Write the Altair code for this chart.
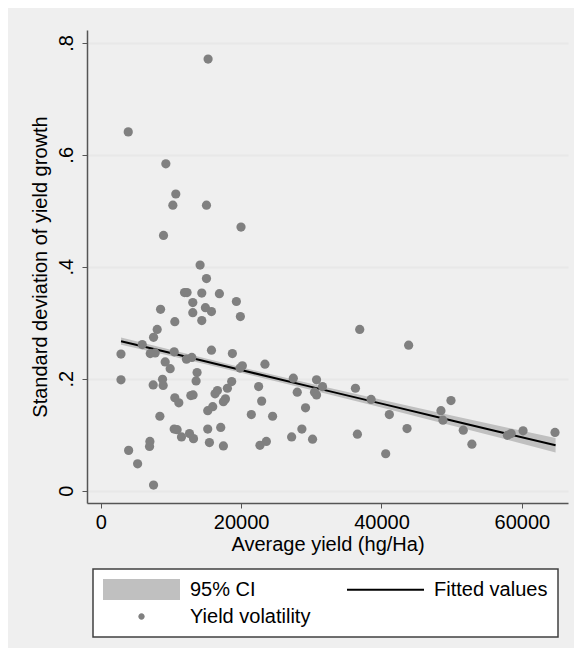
import altair as alt
import pandas as pd

# Scatter: average yield (hg/Ha) vs. standard deviation of yield growth
avg_yield = [
    15300, 3925, 9280, 10700, 10280, 15070, 19990, 8950, 14160, 15070,
    11940, 12300, 14400, 16910, 19330, 13120, 14920, 15780, 8530, 13120,
    19900, 10560, 14400, 8050, 7530, 5920, 2890, 7060, 7760, 10470,
    15780, 18760, 9190, 12220, 12980, 9900, 13730, 20180, 19850, 23400,
    2890, 8810, 13590, 7480, 8900, 18660, 18050, 22500, 27440, 30750,
    31600, 28000, 30460, 30750, 16630, 16290, 12840, 13160, 10560, 11130,
    17770, 17480, 22930, 29180, 15960, 15250, 8430, 21460, 24490, 10470,
    10890, 15250, 17100, 28660, 12650, 13220, 11510, 7010, 6960, 15490,
    17480, 22690, 23600, 27200, 30180, 3980, 5260, 7530,
    36900, 43870, 36290, 38520, 36570, 41120, 40600, 43640, 48470, 48760,
    49900, 51650, 52880, 57940, 58470, 60170, 64720,
]
yield_sd = [
    0.771, 0.641, 0.584, 0.530, 0.510, 0.510, 0.471, 0.456, 0.403, 0.379,
    0.354, 0.354, 0.353, 0.352, 0.338, 0.336, 0.327, 0.320, 0.324, 0.318,
    0.311, 0.302, 0.304, 0.288, 0.274, 0.261, 0.244, 0.245, 0.246, 0.248,
    0.251, 0.245, 0.230, 0.235, 0.238, 0.218, 0.211, 0.223, 0.219, 0.226,
    0.198, 0.199, 0.196, 0.189, 0.188, 0.195, 0.183, 0.186, 0.201, 0.198,
    0.186, 0.176, 0.176, 0.171, 0.179, 0.173, 0.170, 0.171, 0.166, 0.157,
    0.164, 0.159, 0.160, 0.148, 0.150, 0.143, 0.133, 0.136, 0.133, 0.110,
    0.109, 0.110, 0.113, 0.110, 0.102, 0.093, 0.096, 0.088, 0.079, 0.086,
    0.080, 0.081, 0.088, 0.096, 0.092, 0.072, 0.048, 0.010,
    0.288, 0.260, 0.183, 0.163, 0.101, 0.136, 0.066, 0.111, 0.143, 0.126,
    0.161, 0.108, 0.083, 0.099, 0.102, 0.107, 0.104,
]

# Fitted line and 95% CI
fit_x = [2900, 10000, 20000, 30000, 40000, 50000, 57000, 64800]
fit_y = [0.267, 0.246, 0.2155, 0.1855, 0.1555, 0.1255, 0.1045, 0.081]
ci_lo = [0.2605, 0.2404, 0.2105, 0.1799, 0.1485, 0.1166, 0.0940, 0.068]
ci_hi = [0.2735, 0.2516, 0.2205, 0.1911, 0.1625, 0.1344, 0.1150, 0.094]

legend_labels = ["95% CI", "Fitted values", "Yield volatility"]
legend_colors = ["#c0c0c0", "#000000", "#808080"]
# symbol paths in units of half the symbol size (size 441 -> 10.5 px)
legend_shapes = [
    "M-3.667,-1H3.667V1H-3.667Z",
    "M-3.667,-0.1H3.667V0.1H-3.667Z",
    "M-0.3,0A0.3,0.3 0 1,0 0.3,0A0.3,0.3 0 1,0 -0.3,0Z",
]

pts = pd.DataFrame({"x": avg_yield, "y": yield_sd})
fit = pd.DataFrame({"x": fit_x, "y": fit_y, "lo": ci_lo, "hi": ci_hi})
leg = pd.DataFrame({"label": legend_labels})

FONT = "Liberation Sans"

xscale = alt.Scale(domain=[-1950, 66570], nice=False, zero=False)
yscale = alt.Scale(domain=[-0.022, 0.823], nice=False, zero=False)

xaxis = alt.Axis(
    values=[0, 20000, 40000, 60000], format="d", grid=False,
    title="Average yield (hg/Ha)", titleFontSize=20, titleFont=FONT,
    titleFontWeight="normal", titleColor="black", titlePadding=2,
    labelFontSize=20, labelFont=FONT, labelColor="black", labelPadding=4,
    tickSize=5, tickColor="#555555", domainColor="#555555", domainWidth=1.5,
    labelFlush=False, labelOverlap=False,
)
yaxis = alt.Axis(
    values=[0, 0.2, 0.4, 0.6, 0.8], labelExpr="datum.value == 0 ? '0' : replace(format(datum.value, '.1f'), '0.', '.')",
    grid=True, gridColor="#e8e8e8", gridWidth=2,
    title="Standard deviation of yield growth", titleFontSize=20, titleFont=FONT,
    titleFontWeight="normal", titleColor="black", titlePadding=6,
    labelFontSize=20, labelFont=FONT, labelColor="black", labelAngle=-90,
    labelAlign="center", labelBaseline="bottom", labelPadding=6,
    tickSize=5, tickColor="#555555", domainColor="#555555", domainWidth=1.5,
    labelFlush=False, labelOverlap=False,
)

band = alt.Chart(fit).mark_area(color="#c0c0c0", opacity=1).encode(
    x=alt.X("x:Q", scale=xscale, axis=xaxis),
    y=alt.Y("lo:Q", scale=yscale, axis=yaxis),
    y2="hi:Q",
)
line = alt.Chart(fit).mark_line(color="black", strokeWidth=2).encode(
    x=alt.X("x:Q", scale=xscale),
    y=alt.Y("y:Q", scale=yscale),
)
scatter = alt.Chart(pts).mark_circle(color="#808080", size=85, opacity=1).encode(
    x=alt.X("x:Q", scale=xscale),
    y=alt.Y("y:Q", scale=yscale),
)
legend_layer = alt.Chart(leg).mark_point(filled=True, opacity=0).encode(
    color=alt.Color(
        "label:N",
        scale=alt.Scale(domain=legend_labels, range=legend_colors),
        legend=alt.Legend(title=None),
    ),
    shape=alt.Shape(
        "label:N",
        scale=alt.Scale(domain=legend_labels, range=legend_shapes),
        legend=alt.Legend(title=None),
    ),
)

chart = alt.layer(band, line, scatter, legend_layer).properties(
    width=481, height=473,
    padding={"left": 79, "top": 22, "right": 6, "bottom": 145},
    autosize=alt.AutoSizeParams(type="none"),
    background="#efefef",
).configure_view(
    fill="white", stroke=None,
).configure_legend(
    orient="none", legendX=6, legendY=539, columns=2, direction="horizontal",
    symbolSize=441, symbolStrokeWidth=0, symbolOpacity=1, symbolOffset=28,
    labelFont=FONT, labelFontSize=20, labelColor="black", labelOffset=38,
    labelLimit=300, columnPadding=35, rowPadding=6,
    padding=10, fillColor="white", strokeColor="#404040", strokeWidth=1.5,
    cornerRadius=0,
)

chart.save("out.html", embed_options={"renderer": "svg", "actions": False})
